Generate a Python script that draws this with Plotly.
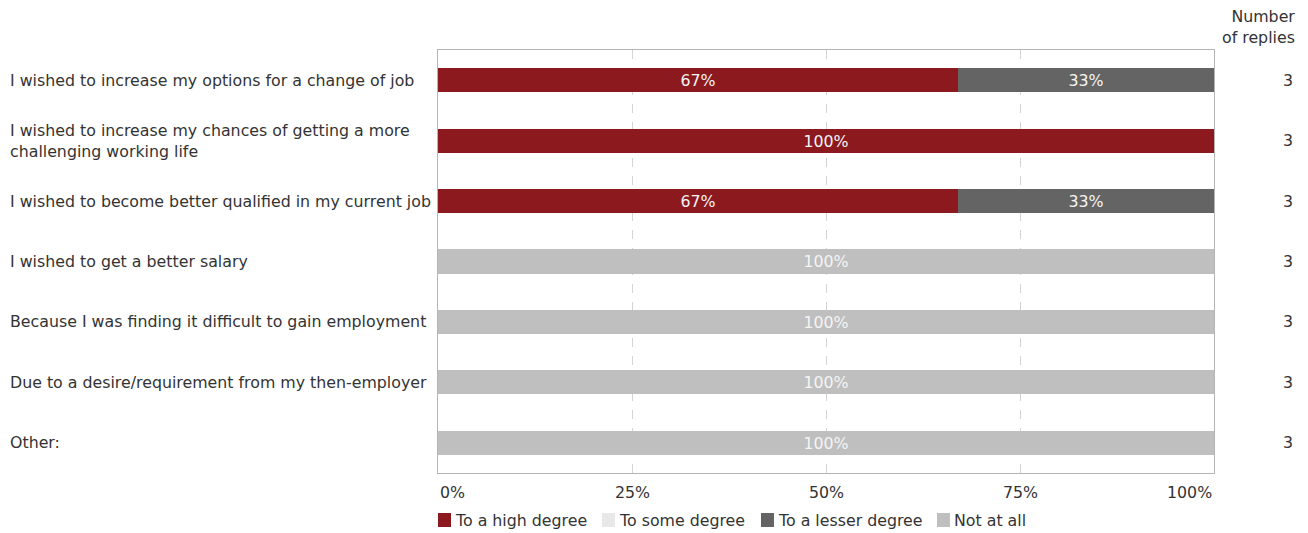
import plotly.graph_objects as go

# Survey statements (top to bottom) and answer shares in percent
statements = [
    "I wished to increase my options for a change of job",
    "I wished to increase my chances of getting a more<br>challenging working life",
    "I wished to become better qualified in my current job",
    "I wished to get a better salary",
    "Because I was finding it difficult to gain employment",
    "Due to a desire/requirement from my then-employer",
    "Other:",
]
high_degree = [67, 100, 67, 0, 0, 0, 0]
some_degree = [0, 0, 0, 0, 0, 0, 0]
lesser_degree = [33, 0, 33, 0, 0, 0, 0]
not_at_all = [0, 0, 0, 100, 100, 100, 100]
replies = [3, 3, 3, 3, 3, 3, 3]

series_names = ["To a high degree", "To some degree", "To a lesser degree", "Not at all"]
series_values = [high_degree, some_degree, lesser_degree, not_at_all]
series_colors = ["#8c191e", "#e8e8e8", "#646464", "#bfbfbf"]

x_ticks = [0, 25, 50, 75, 100]
x_tick_labels = ["0%", "25%", "50%", "75%", "100%"]

FONT = "DejaVu Sans"
FS = 15.8
TEXT_COLOR = "#333333"

W, H = 1308, 533
L, R, T, B = 438, 94, 50, 60
PW = W - L - R
PH = H - T - B


def px_x(px):
    return (px - L) / PW


def px_y(py):
    return (H - B - py) / PH


rows = list(range(len(statements)))

fig = go.Figure()
for name, vals, col in zip(series_names, series_values, series_colors):
    fig.add_trace(go.Bar(
        y=rows,
        x=vals,
        name=name,
        orientation="h",
        marker=dict(color=col, line=dict(width=0)),
        width=0.4,
        text=[f"{v}%" if v > 0 else "" for v in vals],
        textposition="inside",
        insidetextanchor="middle",
        textfont=dict(family=FONT, size=FS, color="#f4f4f4"),
        hoverinfo="skip",
        showlegend=False,
    ))

annotations = []
shapes = []
# Statement labels, left aligned at the page edge
for i, s in enumerate(statements):
    annotations.append(dict(
        x=px_x(8), xref="paper", y=i, yref="y",
        text=s, showarrow=False, xanchor="left", yanchor="middle", align="left",
        font=dict(family=FONT, size=FS, color=TEXT_COLOR),
    ))
# Number of replies column
for i, n in enumerate(replies):
    annotations.append(dict(
        x=px_x(1295), xref="paper", y=i, yref="y",
        text=str(n), showarrow=False, xanchor="right", yanchor="middle",
        font=dict(family=FONT, size=FS, color=TEXT_COLOR),
    ))
annotations.append(dict(
    x=px_x(1297), xref="paper", y=px_y(5), yref="paper",
    text="Number<br>of replies", showarrow=False, xanchor="right", yanchor="top",
    align="right", font=dict(family=FONT, size=FS, color=TEXT_COLOR),
))
# Percentage axis labels: outer ones aligned to the frame edges
for v, lab in zip(x_ticks, x_tick_labels):
    anchor = "left" if v == 0 else ("right" if v == 100 else "center")
    annotations.append(dict(
        x=v, xref="x", y=px_y(492), yref="paper",
        text=lab, showarrow=False, xanchor=anchor, yanchor="middle",
        font=dict(family=FONT, size=FS, color=TEXT_COLOR),
    ))

# Legend row below the axis
legend_left = [438, 602, 761, 937]
for name, col, lx in zip(series_names, series_colors, legend_left):
    shapes.append(dict(
        type="rect", xref="paper", yref="paper",
        x0=px_x(lx), x1=px_x(lx + 13), y0=px_y(527), y1=px_y(513),
        fillcolor=col, line=dict(width=0),
    ))
    annotations.append(dict(
        x=px_x(lx + 15), xref="paper", y=px_y(520), yref="paper",
        text=name, showarrow=False, xanchor="left", yanchor="middle",
        font=dict(family=FONT, size=FS, color=TEXT_COLOR),
    ))

fig.update_layout(
    width=W, height=H,
    margin=dict(l=L, r=R, t=T, b=B, pad=0, autoexpand=False),
    barmode="stack",
    bargap=0,
    plot_bgcolor="#ffffff",
    paper_bgcolor="#ffffff",
    font=dict(family=FONT, size=FS, color=TEXT_COLOR),
    uniformtext=dict(minsize=FS, mode="show"),
    showlegend=False,
    annotations=annotations,
    shapes=shapes,
)
fig.update_xaxes(
    range=[0, 100], tickvals=[25, 50, 75], showticklabels=False,
    showgrid=True, gridcolor="#d4d4d4", griddash="dash", gridwidth=1,
    zeroline=False, showline=True, linecolor="#b4b4b4", linewidth=1, mirror=True,
    fixedrange=True,
)
fig.update_yaxes(
    range=[len(statements) - 0.5, -0.5], showticklabels=False, showgrid=False,
    zeroline=False, showline=True, linecolor="#b4b4b4", linewidth=1, mirror=True,
    fixedrange=True,
)

fig.write_html("out.html", config={"displayModeBar": False})
